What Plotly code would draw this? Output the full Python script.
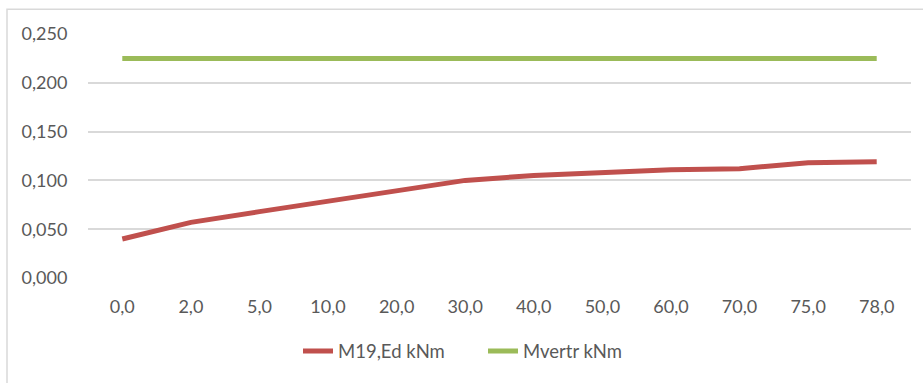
import plotly.graph_objects as go

categories = ["0,0", "2,0", "5,0", "10,0", "20,0", "30,0", "40,0", "50,0", "60,0", "70,0", "75,0", "78,0"]
m19_ed = [0.040, 0.057, 0.068, 0.079, 0.090, 0.100, 0.105, 0.108, 0.111, 0.112, 0.118, 0.119]
mvertr = [0.225] * len(categories)
y_ticks = [0.0, 0.05, 0.10, 0.15, 0.20, 0.25]
y_tick_labels = ["0,000", "0,050", "0,100", "0,150", "0,200", "0,250"]

W, H = 923, 383
L, R, T, B = 88, 12, 34, 103
pw, ph = W - L - R, H - T - B

def px_x(x):
    return (x - L) / pw

def px_y(y):
    return (H - B - y) / ph

fig = go.Figure()
fig.add_trace(go.Scatter(x=categories, y=m19_ed, mode="lines", name="M19,Ed kNm",
                         line=dict(color="#c0504d", width=5)))
fig.add_trace(go.Scatter(x=categories, y=mvertr, mode="lines", name="Mvertr kNm",
                         line=dict(color="#9bbb59", width=5)))

font = dict(family="Lato, Open Sans, sans-serif", size=18, color="#595959")

fig.update_layout(
    width=W, height=H,
    margin=dict(l=L, r=R, t=T, b=B, pad=0),
    paper_bgcolor="white", plot_bgcolor="white",
    font=font,
    showlegend=True,
    legend=dict(orientation="h", x=px_x(298), xanchor="left", y=px_y(354), yanchor="middle",
                font=dict(family="Lato, Open Sans, sans-serif", size=18.5, color="#595959"),
                entrywidth=140, entrywidthmode="pixels",
                tracegroupgap=0, bgcolor="rgba(0,0,0,0)"),
    xaxis=dict(type="category", range=[-0.5, len(categories) - 0.5], showgrid=False,
               zeroline=False, showline=False, ticks="outside", ticklen=12,
               tickcolor="rgba(0,0,0,0)", tickfont=font, fixedrange=True),
    yaxis=dict(range=[0, 0.25], tickvals=y_ticks, ticktext=y_tick_labels, showgrid=True,
               gridcolor="#d9d9d9", gridwidth=1.5, zeroline=False, showline=False,
               ticks="outside", ticklen=16, tickcolor="rgba(0,0,0,0)", tickfont=font,
               fixedrange=True),
    shapes=[dict(type="rect", xref="paper", yref="paper",
                 x0=px_x(7), x1=px_x(940), y0=px_y(420), y1=px_y(9),
                 line=dict(color="#d9d9d9", width=1.5), fillcolor="rgba(0,0,0,0)", layer="below")],
)

fig.write_html("out.html", config={"displayModeBar": False},
               post_script="document.body.style.margin='0';document.body.style.padding='0';")
